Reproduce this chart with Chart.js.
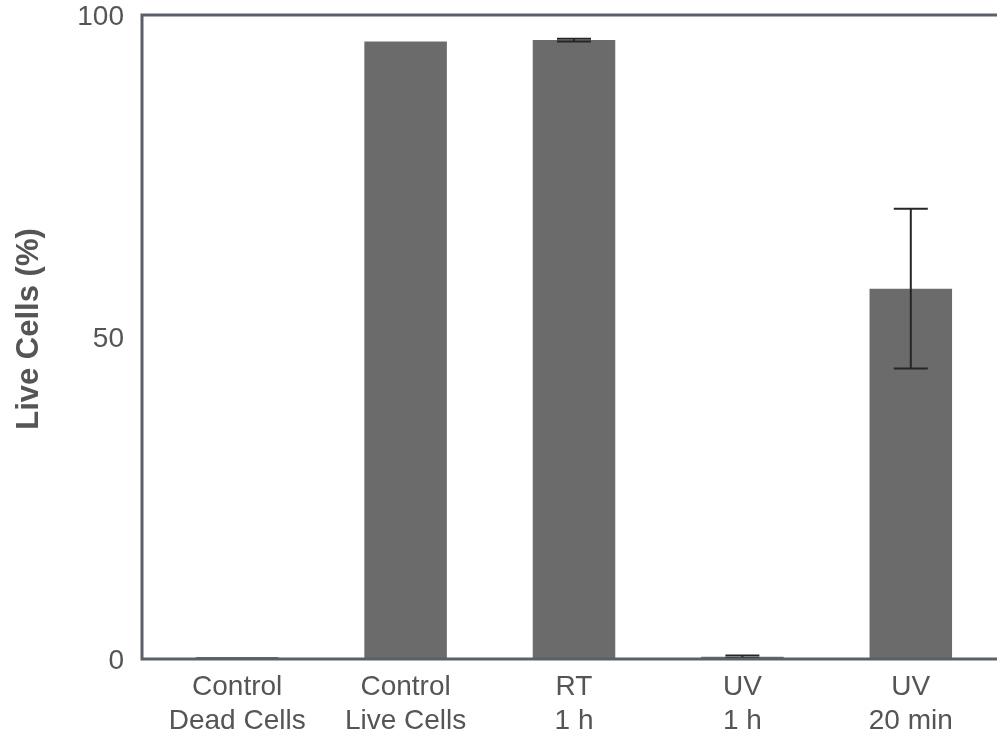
<!DOCTYPE html>
<html>
<head>
<meta charset="utf-8">
<script src="https://cdn.jsdelivr.net/npm/chart.js@4.4.1/dist/chart.umd.min.js"></script>
<style>
  html, body { margin: 0; padding: 0; background: #ffffff; }
  #wrap { width: 997px; height: 740px; position: relative; }
</style>
</head>
<body>
<div id="wrap"><canvas id="chart" width="997" height="740"></canvas></div>
<script>
// Viability per treatment group (mean and error)
const categories = [
  ["Control", "Dead Cells"],
  ["Control", "Live Cells"],
  ["RT", "1 h"],
  ["UV", "1 h"],
  ["UV", "20 min"]
];
const liveCells = [0.3, 95.9, 96.1, 0.35, 57.5];
const errors = [0, 0, 0.2, 0.2, 12.4];
const yTicks = [0, 50, 100];
const yTitle = "Live Cells (%)";

const AXIS_COLOR = "#5b6068";
const TEXT_COLOR = "#555555";
const FONT = "'Liberation Sans', Arial, Helvetica, sans-serif";

// Error bars with caps, drawn on top of the bars
const errorBars = {
  id: "errorBars",
  afterDatasetsDraw(chart) {
    const ctx = chart.ctx;
    const meta = chart.getDatasetMeta(0);
    const y = chart.scales.y;
    ctx.save();
    ctx.strokeStyle = "#262626";
    ctx.lineWidth = 2;
    meta.data.forEach((bar, i) => {
      const e = errors[i];
      if (!e) return;
      const top = y.getPixelForValue(liveCells[i] + e);
      const bot = y.getPixelForValue(liveCells[i] - e);
      const half = 17;
      ctx.beginPath();
      ctx.moveTo(bar.x, top);
      ctx.lineTo(bar.x, bot);
      ctx.moveTo(bar.x - half, top);
      ctx.lineTo(bar.x + half, top);
      ctx.moveTo(bar.x - half, bot);
      ctx.lineTo(bar.x + half, bot);
      ctx.stroke();
    });
    ctx.restore();
  }
};

// Frame lines (left, bottom, top), y tick labels and the rotated y-axis title
const frame = {
  id: "frame",
  afterDraw(chart) {
    const ctx = chart.ctx;
    const area = chart.chartArea;
    const y = chart.scales.y;
    const x0 = area.left - 11;
    const yTop = y.getPixelForValue(100);
    const yBot = y.getPixelForValue(0);
    ctx.save();
    ctx.strokeStyle = AXIS_COLOR;
    ctx.lineWidth = 3;
    ctx.beginPath();
    ctx.moveTo(chart.width, yTop);
    ctx.lineTo(x0, yTop);
    ctx.lineTo(x0, yBot);
    ctx.lineTo(chart.width, yBot);
    ctx.stroke();

    ctx.fillStyle = TEXT_COLOR;
    ctx.font = "28px " + FONT;
    ctx.textAlign = "right";
    ctx.textBaseline = "middle";
    yTicks.forEach(v => {
      ctx.fillText(String(v), x0 - 18, y.getPixelForValue(v) + 2);
    });

    ctx.font = "bold 31px " + FONT;
    ctx.textAlign = "center";
    ctx.translate(29, 329);
    ctx.rotate(-Math.PI / 2);
    ctx.fillText(yTitle, 0, 0);
    ctx.restore();
  }
};

new Chart(document.getElementById("chart"), {
  type: "bar",
  data: {
    labels: categories,
    datasets: [{
      data: liveCells,
      backgroundColor: "#6b6b6b",
      borderWidth: 0,
      barPercentage: 0.49,
      categoryPercentage: 1.0
    }]
  },
  options: {
    responsive: false,
    animation: false,
    layout: { padding: { top: 15, right: 2, left: 0, bottom: 0 } },
    plugins: {
      legend: { display: false },
      tooltip: { enabled: false },
      title: { display: false }
    },
    scales: {
      x: {
        grid: { display: false, drawTicks: false },
        border: { display: false },
        ticks: {
          color: TEXT_COLOR,
          font: { family: FONT, size: 28, lineHeight: 1.22 },
          padding: 11,
          maxRotation: 0,
          autoSkip: false
        },
        afterFit(scale) { scale.height = 81; }
      },
      y: {
        min: 0,
        max: 100,
        afterBuildTicks(scale) { scale.ticks = yTicks.map(v => ({ value: v })); },
        grid: { display: false, drawTicks: false },
        border: { display: false },
        ticks: { display: false },
        afterFit(scale) { scale.width = 153; }
      }
    }
  },
  plugins: [errorBars, frame]
});
</script>
</body>
</html>
